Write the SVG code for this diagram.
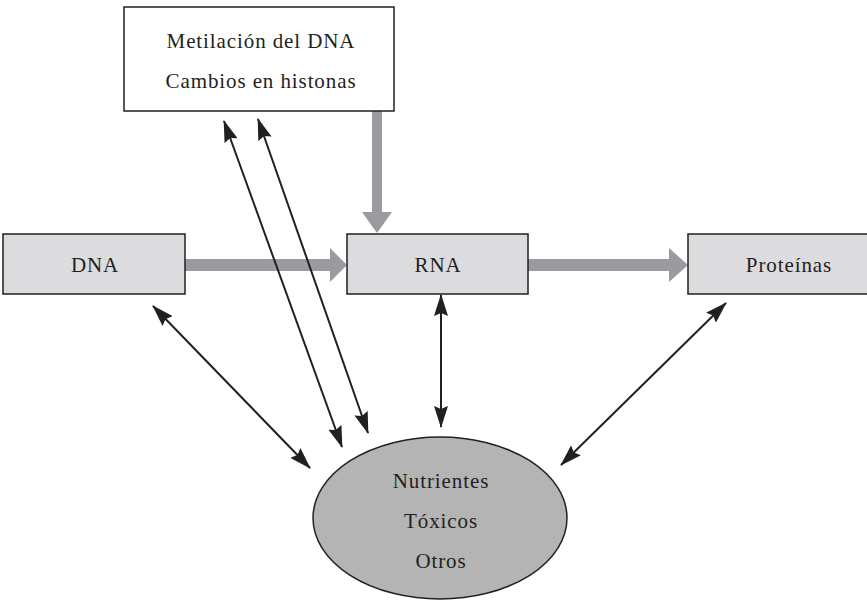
<svg xmlns="http://www.w3.org/2000/svg" width="867" height="600" viewBox="0 0 867 600">
  <style>
    .box { fill: #dcdcde; stroke: #231f20; stroke-width: 1.5; }
    .plain { fill: #ffffff; stroke: #231f20; stroke-width: 1.5; }
    .oval { fill: #b4b4b4; stroke: #231f20; stroke-width: 1.5; }
    .label { font-family: "Liberation Serif", "Times New Roman", serif; font-size: 21px; fill: #231f20; text-anchor: middle; letter-spacing: 0.9px; }
    .flow { fill: #999b9e; stroke: none; }
    .link { stroke: #231f20; stroke-width: 2; fill: none; marker-start: url(#head); marker-end: url(#head); }
  </style>
  <defs>
    <marker id="head" viewBox="0 0 22 14" refX="21" refY="7" markerWidth="22" markerHeight="14" markerUnits="userSpaceOnUse" orient="auto-start-reverse">
      <path d="M0,0 L22,7 L0,14 L3,7 z" fill="#231f20"/>
    </marker>
  </defs>

  <rect width="867" height="600" fill="#ffffff"/>

  <!-- connectors -->
  <g id="connectors">
    <!-- main flow: DNA -> RNA -> Proteinas, and epigenetic input into RNA -->
    <path class="flow" d="M185,259 H330 V248 L347,265 L330,282 V271 H185 z"/>
    <path class="flow" d="M528,259 H669 V248 L688,265 L669,282 V271 H528 z"/>
    <path class="flow" d="M372,111 V212 H362 L377,233 L392,212 H382 V111 z"/>
    <!-- two-way interactions with the environment -->
    <line class="link" x1="153" y1="306" x2="310" y2="468"/>
    <line class="link" x1="441" y1="295" x2="441" y2="427"/>
    <line class="link" x1="726" y1="303" x2="561" y2="465"/>
    <line class="link" x1="224" y1="121" x2="342" y2="447"/>
    <line class="link" x1="258" y1="119" x2="368" y2="433"/>
  </g>

  <g id="epigenetica">
    <rect class="plain" x="124" y="7" width="270" height="104"/>
    <text class="label" x="261" y="48">Metilación del DNA</text>
    <text class="label" x="261" y="88">Cambios en histonas</text>
  </g>

  <g id="dna">
    <rect class="box" x="3" y="234" width="182" height="60"/>
    <text class="label" x="95" y="272">DNA</text>
  </g>

  <g id="rna">
    <rect class="box" x="347" y="234" width="181" height="60"/>
    <text class="label" x="438" y="272">RNA</text>
  </g>

  <g id="proteinas">
    <rect class="box" x="688" y="234" width="190" height="60"/>
    <text class="label" x="789" y="272">Proteínas</text>
  </g>

  <g id="ambiente">
    <ellipse class="oval" cx="440" cy="518" rx="127" ry="81"/>
    <text class="label" x="441" y="488">Nutrientes</text>
    <text class="label" x="441" y="528">Tóxicos</text>
    <text class="label" x="441" y="568">Otros</text>
  </g>
</svg>
